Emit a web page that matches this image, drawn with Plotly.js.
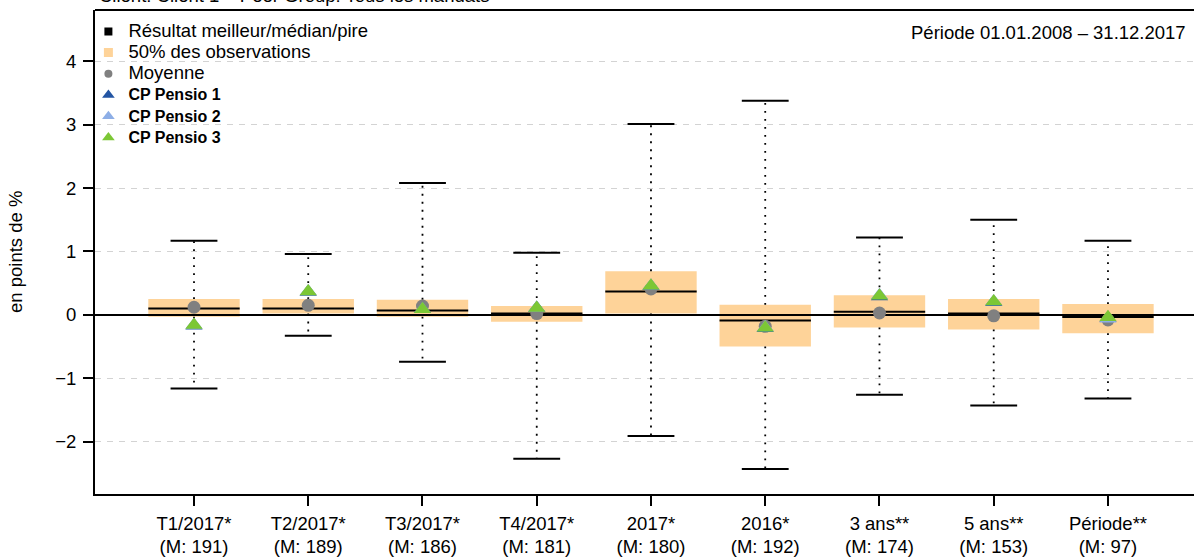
<!DOCTYPE html>
<html>
<head>
<meta charset="utf-8">
<script src="https://cdn.plot.ly/plotly-3.0.1.min.js"></script>
<style>html,body{margin:0;padding:0;background:#fff;}#chart{width:1194px;height:558px;}</style>
</head>
<body>
<div id="chart"></div>
<script>
// ---- data ----
const categories = ["T1/2017*", "T2/2017*", "T3/2017*", "T4/2017*", "2017*", "2016*", "3 ans**", "5 ans**", "Période**"];
const mandateCounts = [191, 189, 186, 181, 180, 192, 174, 153, 97];
const best   = [1.17, 0.96, 2.08, 0.98, 3.01, 3.38, 1.22, 1.50, 1.17];
const worst  = [-1.16, -0.33, -0.74, -2.27, -1.91, -2.43, -1.26, -1.43, -1.32];
const q3     = [0.25, 0.25, 0.24, 0.14, 0.69, 0.16, 0.31, 0.25, 0.17];
const q1     = [-0.03, 0.02, -0.03, -0.11, 0.02, -0.50, -0.20, -0.23, -0.29];
const median = [0.10, 0.10, 0.07, 0.02, 0.37, -0.09, 0.05, 0.02, -0.035];
const mean   = [0.12, 0.15, 0.14, 0.02, 0.41, -0.18, 0.03, -0.015, -0.08];
const pensio1 = [-0.17, 0.36, 0.09, 0.11, 0.45, -0.21, 0.29, 0.20, -0.05];
const pensio2 = [-0.16, 0.37, 0.09, 0.11, 0.46, -0.20, 0.31, 0.21, -0.06];
const pensio3 = [-0.16, 0.37, 0.09, 0.11, 0.46, -0.205, 0.30, 0.21, -0.036];
const seriesNames = ["CP Pensio 1", "CP Pensio 2", "CP Pensio 3"];
const seriesColors = ["#2355A3", "#8DAEE6", "#7CC735"];
const yTickVals = [-2, -1, 0, 1, 2, 3, 4];
const titleText = "Client: Client 1 – Peer Group: Tous les mandats";
const periodText = "Période 01.01.2008 – 31.12.2017";
const yTitle = "en points de %";

// ---- styles ----
const FONT = "Liberation Sans, Arial, Helvetica, sans-serif";
const FS = 18.5;
const boxColor = "#FED399";
const meanColor = "#808080";
const boxHalf = 0.4, capHalf = 0.205;

const xs = categories.map((c, i) => i + 1);
const big = s => "<span style='font-size:" + FS + "px'>" + s + "</span>";
const tickText = categories.map((c, i) => big(c) + "<br>" + big("(M: " + mandateCounts[i] + ")"));

function segs(fn) {
  const x = [], y = [];
  xs.forEach((xi, i) => { const s = fn(xi, i); x.push(s[0], s[1], null); y.push(s[2], s[3], null); });
  return {x, y};
}

const traces = [];
// boxes (50% of observations)
traces.push({type: "bar", x: xs, base: q1, y: q3.map((v, i) => v - q1[i]), width: 2 * boxHalf,
  marker: {color: boxColor, line: {width: 0}}, showlegend: false, hoverinfo: "skip"});
// whiskers (dotted), box edge to extreme
const wUp = segs((xi, i) => [xi, xi, q3[i], best[i]]);
const wDn = segs((xi, i) => [xi, xi, q1[i], worst[i]]);
traces.push({type: "scatter", mode: "lines", x: wUp.x.concat(wDn.x), y: wUp.y.concat(wDn.y),
  line: {color: "#000", width: 1.8, dash: "1.8px,6.2px"}, showlegend: false, hoverinfo: "skip"});
// zero reference line
traces.push({type: "scatter", mode: "lines", x: [0, 10], y: [0, 0], line: {color: "#000", width: 2},
  showlegend: false, hoverinfo: "skip"});
// caps best / worst
const cTop = segs((xi, i) => [xi - capHalf, xi + capHalf, best[i], best[i]]);
const cBot = segs((xi, i) => [xi - capHalf, xi + capHalf, worst[i], worst[i]]);
traces.push({type: "scatter", mode: "lines", x: cTop.x.concat(cBot.x), y: cTop.y.concat(cBot.y),
  line: {color: "#000", width: 2}, showlegend: false, hoverinfo: "skip"});
// medians
const med = segs((xi, i) => [xi - boxHalf, xi + boxHalf, median[i], median[i]]);
traces.push({type: "scatter", mode: "lines", x: med.x, y: med.y,
  line: {color: "#000", width: 2}, showlegend: false, hoverinfo: "skip"});
// means
traces.push({type: "scatter", mode: "markers", x: xs, y: mean,
  marker: {symbol: "circle", size: 13, color: meanColor}, showlegend: false});
// portfolios
[pensio1, pensio2, pensio3].forEach((vals, k) => {
  traces.push({type: "scatter", mode: "markers", x: xs, y: vals,
    marker: {symbol: "triangle-up", size: 15, color: seriesColors[k], line: {width: 0}}, showlegend: false});
});

// legend-only entries
const legSym = [
  {name: "Résultat meilleur/médian/pire", symbol: "square", color: "#000", size: 8},
  {name: "50% des observations", symbol: "square", color: boxColor, size: 9},
  {name: "Moyenne", symbol: "circle", color: meanColor, size: 8},
];
legSym.forEach(l => traces.push({type: "scatter", mode: "markers", x: [null], y: [null], name: big(l.name),
  marker: {symbol: l.symbol, color: l.color, size: l.size}, showlegend: true}));
seriesNames.forEach((n, k) => traces.push({type: "scatter", mode: "markers", x: [null], y: [null],
  name: "<b><span style='font-size:16px'>" + n + "</span></b>",
  marker: {symbol: "triangle-up", color: seriesColors[k], size: 11}, showlegend: true}));

const layout = {
  width: 1194, height: 558,
  margin: {l: 95, r: 0, t: 10, b: 64, pad: 0},
  paper_bgcolor: "#fff", plot_bgcolor: "#fff",
  font: {family: FONT, size: FS, color: "#000"},
  showlegend: true,
  legend: {x: -0.006, xanchor: "left", y: 0.988, yanchor: "top", bgcolor: "rgba(0,0,0,0)",
    borderwidth: 0, font: {family: FONT, size: 14, color: "#000"}, tracegroupgap: 0, itemclick: false},
  xaxis: {range: [0.1335, 9.753], tickmode: "array", tickvals: xs, ticktext: tickText,
    showgrid: false, zeroline: false, showline: true, linecolor: "#000", linewidth: 2,
    ticks: "outside", ticklen: 10, tickwidth: 2, tickcolor: "#000", ticklabelstandoff: 4,
    tickfont: {family: FONT, size: 17, color: "#000"}, fixedrange: true},
  yaxis: {range: [-2.826, 4.81], tickmode: "array", tickvals: yTickVals,
    showgrid: true, gridcolor: "#D3D3D3", gridwidth: 1, griddash: "6px,6px",
    zeroline: false, showline: true, linecolor: "#000", linewidth: 2,
    ticks: "outside", ticklen: 10, tickwidth: 2, tickcolor: "#000", ticklabelstandoff: 3,
    tickfont: {family: FONT, size: FS, color: "#000"}, fixedrange: true},
  shapes: [
    {type: "line", xref: "paper", yref: "paper", x0: 0, x1: 1, y0: 1, y1: 1, line: {color: "#000", width: 2}},
    {type: "rect", xref: "paper", yref: "paper", x0: 0.001, x1: 0.180, y0: 0.74, y1: 0.83, layer: "between",
      fillcolor: "#fff", line: {width: 0}}
  ],
  annotations: [
    {text: titleText, xref: "paper", yref: "paper", x: 0.0018, y: 1.0305, xanchor: "left", yanchor: "middle",
      showarrow: false, font: {family: FONT, size: FS, color: "#000"}},
    {text: periodText, xref: "paper", yref: "paper", x: 0.9945, y: 0.9525, xanchor: "right", yanchor: "middle",
      showarrow: false, font: {family: FONT, size: FS, color: "#000"}},
    {text: yTitle, xref: "paper", yref: "paper", x: -0.0728, y: 0.5, xanchor: "center", yanchor: "middle",
      textangle: -90, showarrow: false, font: {family: FONT, size: FS, color: "#000"}}
  ]
};

Plotly.newPlot("chart", traces, layout, {displayModeBar: false, staticPlot: true});
</script>
</body>
</html>
